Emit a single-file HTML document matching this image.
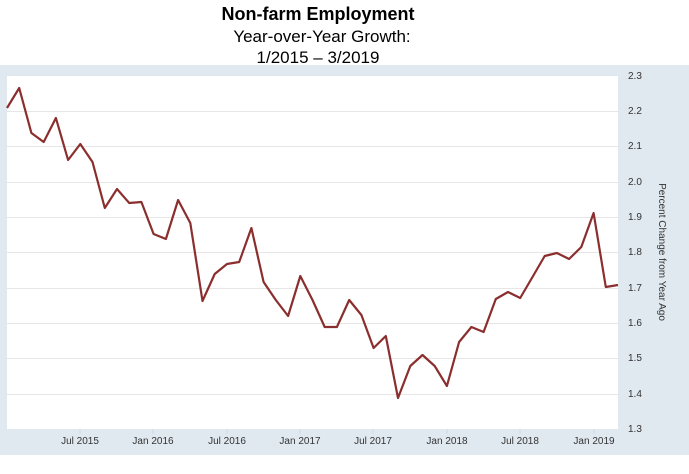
<!DOCTYPE html>
<html><head><style>
body{margin:0;width:689px;height:469px;background:#fff;overflow:hidden;font-family:"Liberation Sans",sans-serif}
</style></head><body>
<svg width="689" height="469" xmlns="http://www.w3.org/2000/svg" font-family="Liberation Sans, sans-serif">
<rect x="0" y="65" width="689" height="390" fill="#e1e9f0"/>
<rect x="7" y="76" width="611" height="353" fill="#fff"/>
<g stroke="#e6e6e6" stroke-width="1">
<line x1="7" x2="618" y1="111.5" y2="111.5"/><line x1="7" x2="618" y1="146.5" y2="146.5"/>
<line x1="7" x2="618" y1="182.5" y2="182.5"/><line x1="7" x2="618" y1="217.5" y2="217.5"/>
<line x1="7" x2="618" y1="252.5" y2="252.5"/><line x1="7" x2="618" y1="288.5" y2="288.5"/>
<line x1="7" x2="618" y1="323.5" y2="323.5"/><line x1="7" x2="618" y1="358.5" y2="358.5"/>
<line x1="7" x2="618" y1="394.5" y2="394.5"/>
</g>
<g stroke="#ccd6eb"><line x1="80" x2="80" y1="429" y2="434"/><line x1="153" x2="153" y1="429" y2="434"/><line x1="227" x2="227" y1="429" y2="434"/><line x1="300" x2="300" y1="429" y2="434"/><line x1="373" x2="373" y1="429" y2="434"/><line x1="447" x2="447" y1="429" y2="434"/><line x1="520" x2="520" y1="429" y2="434"/><line x1="594" x2="594" y1="429" y2="434"/></g>
<g font-size="10" fill="#333" text-anchor="middle">
<text x="80" y="444">Jul 2015</text><text x="153" y="444">Jan 2016</text><text x="227" y="444">Jul 2016</text><text x="300" y="444">Jan 2017</text><text x="373" y="444">Jul 2017</text><text x="447" y="444">Jan 2018</text><text x="520" y="444">Jul 2018</text><text x="594" y="444">Jan 2019</text>
</g>
<g font-size="10" fill="#333">
<text x="628" y="79">2.3</text><text x="628" y="114">2.2</text><text x="628" y="149">2.1</text><text x="628" y="185">2.0</text><text x="628" y="220">1.9</text><text x="628" y="255">1.8</text><text x="628" y="291">1.7</text><text x="628" y="326">1.6</text><text x="628" y="361">1.5</text><text x="628" y="397">1.4</text><text x="628" y="432">1.3</text>
</g>
<text x="0" y="0" font-size="10" fill="#333" text-anchor="middle" transform="translate(659,252) rotate(90)">Percent Change from Year Ago</text>
<polyline fill="none" stroke="#8b2e2e" stroke-width="2.2" stroke-linejoin="round" points="7.0,108 19.2,88 31.4,133 43.7,142 55.9,118 68.1,160 80.3,144 92.5,162 104.8,208 117.0,189 129.2,203 141.4,202 153.6,234 165.9,239 178.1,200 190.3,223 202.5,301 214.7,274 227.0,264 239.2,262 251.4,228 263.6,282 275.8,300 288.1,316 300.3,276 312.5,300 324.7,327 336.9,327 349.2,300 361.4,315 373.6,348 385.8,336 398.0,398 410.3,366 422.5,355 434.7,366 446.9,386 459.1,342 471.4,327 483.6,332 495.8,299 508.0,292 520.2,298 532.5,277 544.7,256 556.9,253 569.1,259 581.3,247 593.6,213 605.8,287 618.0,285"/>
<text x="318" y="20" font-size="18" font-weight="bold" text-anchor="middle" fill="#000">Non-farm Employment</text>
<text x="322" y="42" font-size="17" text-anchor="middle" fill="#000">Year-over-Year Growth:</text>
<text x="318" y="63" font-size="17" text-anchor="middle" fill="#000">1/2015 – 3/2019</text>
</svg>
</body></html>
